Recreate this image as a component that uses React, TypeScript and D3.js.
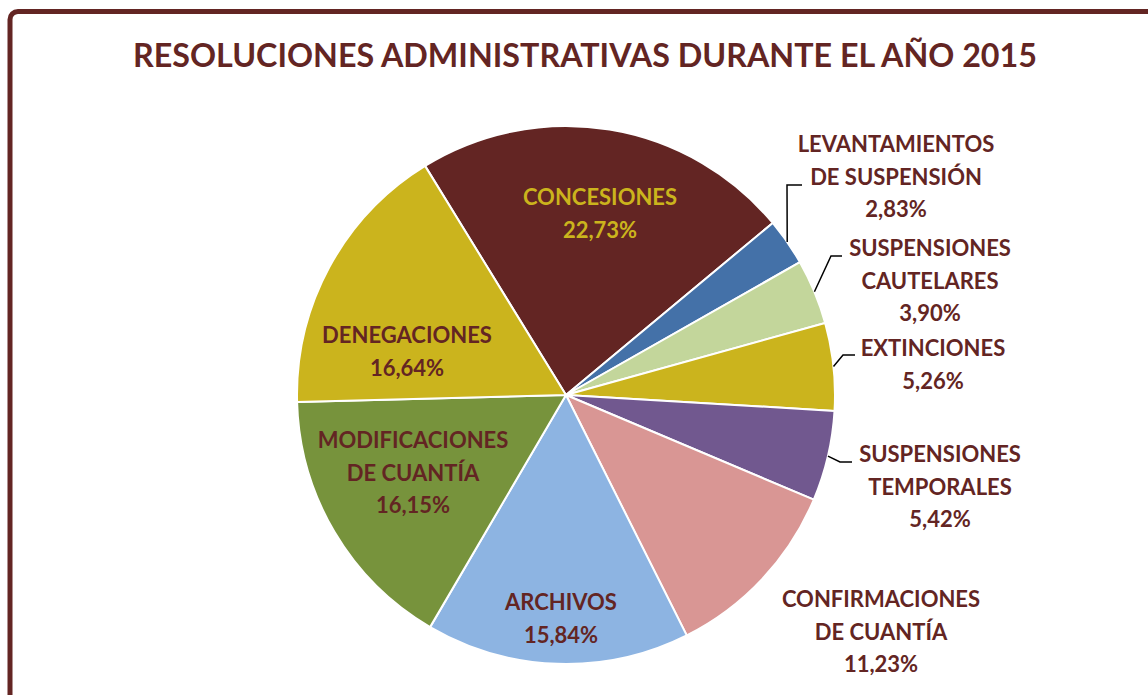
import React from "react";
import * as d3 from "d3";

const title = "RESOLUCIONES ADMINISTRATIVAS DURANTE EL AÑO 2015";
const categories = [
  "CONCESIONES",
  "LEVANTAMIENTOS DE SUSPENSIÓN",
  "SUSPENSIONES CAUTELARES",
  "EXTINCIONES",
  "SUSPENSIONES TEMPORALES",
  "CONFIRMACIONES DE CUANTÍA",
  "ARCHIVOS",
  "MODIFICACIONES DE CUANTÍA",
  "DENEGACIONES",
];
const values = [22.73, 2.83, 3.9, 5.26, 5.42, 11.23, 15.84, 16.15, 16.64];
const labelLines = [
  ["CONCESIONES"],
  ["LEVANTAMIENTOS", "DE SUSPENSIÓN"],
  ["SUSPENSIONES", "CAUTELARES"],
  ["EXTINCIONES"],
  ["SUSPENSIONES", "TEMPORALES"],
  ["CONFIRMACIONES", "DE CUANTÍA"],
  ["ARCHIVOS"],
  ["MODIFICACIONES", "DE CUANTÍA"],
  ["DENEGACIONES"],
];
const colors = [
  "#632523", "#4471A8", "#C3D69B", "#CBB41D", "#71588F",
  "#D99694", "#8DB4E2", "#77933C", "#CBB41D",
];

// layout (label anchor: center x, first baseline y); leader: [elbow, end] or null
const labelPos: [number, number][] = [
  [600, 205], [896, 152], [930, 256], [933, 356], [940, 462],
  [881, 607], [561, 610], [413, 448], [407, 343],
];
const leaders: ([number, number][] | null)[] = [
  null,
  [[787, 185], [802, 185]],
  [[831, 256], [842, 256]],
  [[843, 355], [855, 355]],
  [[840, 462], [852, 462]],
  null, null, null, null,
];

const fmt = (v: number) => v.toFixed(2).replace(".", ",") + "%";

export default function App() {
  const cx = 566, cy = 395, r = 269;
  const start = (-31.6 * Math.PI) / 180;
  const pie = d3
    .pie<number>()
    .sort(null)
    .value((d) => d)
    .startAngle(start)
    .endAngle(start + 2 * Math.PI);
  const arcs = pie(values);
  const arc = d3.arc<d3.PieArcDatum<number>>().innerRadius(0).outerRadius(r);
  const textColor = "#632523";
  const font = "Lato, 'Open Sans', sans-serif";
  const lh = 32.5;

  return (
    <svg
      width={1148}
      height={695}
      style={{ position: "absolute", left: 0, top: 0, background: "#fff" }}
    >
      <rect x={10} y={11.5} width={1300} height={900} rx={8} fill="#fff" stroke="#632523" strokeWidth={5} />
      <text x={585} y={67} textAnchor="middle" fontFamily={font} fontWeight={700} fontSize={33} fill={textColor}
        textLength={904} lengthAdjust="spacingAndGlyphs">
        {title}
      </text>
      <g transform={`translate(${cx},${cy})`}>
        {arcs.map((a, i) => (
          <path key={categories[i]} d={arc(a) || ""} fill={colors[i]} stroke="#fff" strokeWidth={2} strokeLinejoin="round" />
        ))}
      </g>
      {arcs.map((a, i) => {
        const L = leaders[i];
        if (!L) return null;
        const mid = (a.startAngle + a.endAngle) / 2;
        const sx = cx + r * Math.sin(mid);
        const sy = cy - r * Math.cos(mid);
        const pts = [[sx, sy], ...L] as [number, number][];
        return (
          <path key={"l" + i} d={d3.line()(pts) || ""} fill="none" stroke="#000" strokeWidth={1.5} />
        );
      })}
      {labelLines.map((lines, i) => {
        const [x, y] = labelPos[i];
        const all = [...lines, fmt(values[i])];
        return (
          <text
            key={"t" + i}
            textAnchor="middle"
            fontFamily={font}
            fontWeight={700}
            fontSize={22}
            fill={i === 0 ? "#CBB41D" : textColor}
          >
            {all.map((s, j) => (
              <tspan key={j} x={x} y={y + j * lh}>
                {s}
              </tspan>
            ))}
          </text>
        );
      })}
    </svg>
  );
}
